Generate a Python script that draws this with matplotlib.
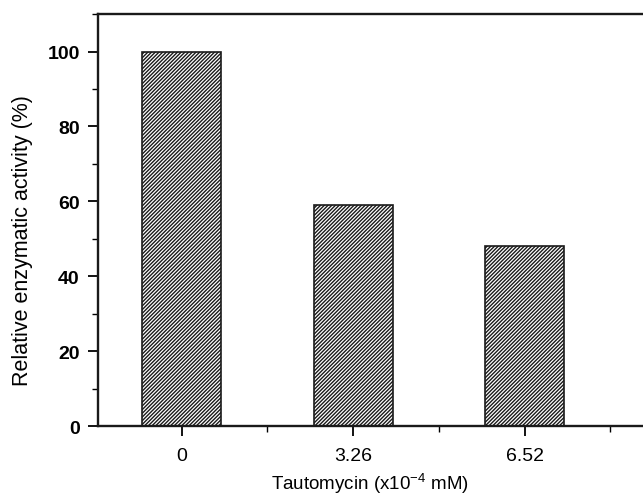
import matplotlib
matplotlib.use("Agg")
import matplotlib.pyplot as plt
import numpy as np
from matplotlib.ticker import MultipleLocator

categories = ["0", "3.26", "6.52"]
activity = [100, 59, 48]

plt.rcParams["font.family"] = ["Liberation Sans", "DejaVu Sans"]
plt.rcParams["mathtext.fontset"] = "custom"
plt.rcParams["mathtext.rm"] = "Liberation Sans"
plt.rcParams["mathtext.default"] = "regular"
plt.rcParams["hatch.linewidth"] = 1.0

fig = plt.figure(figsize=(6.43, 5.02), dpi=100)
ax = fig.add_axes([0.152, 0.149, 0.848, 0.821])

x = np.arange(len(categories))
ax.bar(x, activity, width=0.46, color="white", edgecolor="#1a1a1a",
       hatch="/////////", linewidth=1.2)

ax.set_xlim(-0.49, 2.69)
ax.set_ylim(0, 110)
ax.set_xticks(x)
ax.set_xticklabels(categories, fontsize=14)
ax.xaxis.set_minor_locator(MultipleLocator(0.5))
ax.set_yticks([0, 20, 40, 60, 80, 100])
ax.set_yticklabels(["0", "20", "40", "60", "80", "100"], fontsize=14, fontweight="bold")
ax.yaxis.set_minor_locator(MultipleLocator(10))
ax.tick_params(axis="both", which="major", direction="out", length=7, width=1.3, pad=6)
ax.tick_params(axis="both", which="minor", direction="out", length=4, width=1.0)
ax.tick_params(axis="x", which="major", pad=8)

ax.spines["right"].set_visible(False)
for s in ["left", "bottom", "top"]:
    ax.spines[s].set_linewidth(1.7)
    ax.spines[s].set_color("#1a1a1a")

ax.set_ylabel("Relative enzymatic activity (%)", fontsize=15.5)
ax.yaxis.set_label_coords(-0.118, 0.454)
ax.set_xlabel("Tautomycin (x10$^{-4}$ mM)", fontsize=13.5, labelpad=5)

fig.savefig("out.png", dpi=100)
